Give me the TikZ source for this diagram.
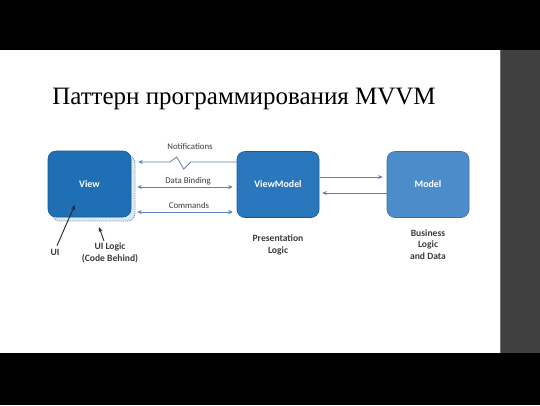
\documentclass[tikz,border=0pt]{standalone}
\usepackage{fontspec}
\setmainfont{Liberation Serif}
\setsansfont{Carlito}
\usetikzlibrary{arrows.meta}
\definecolor{panelgray}{RGB}{64,64,64}
\definecolor{viewblue}{RGB}{31,111,180}
\definecolor{vmblue}{RGB}{42,119,189}
\definecolor{modelblue}{RGB}{76,140,202}
\definecolor{edgeblue}{RGB}{24,90,150}
\definecolor{arrowblue}{RGB}{95,128,180}
\definecolor{shadeblue}{RGB}{222,234,246}
\definecolor{dashblue}{RGB}{120,150,195}
\definecolor{txtgray}{RGB}{60,60,60}
\tikzset{
  boxnode/.style={rounded corners=8pt, minimum width=83pt, minimum height=66pt, draw=edgeblue, line width=0.6pt, text=white, font=\sffamily\bfseries\fontsize{9.9}{12}\selectfont},
  linklabel/.style={font=\sffamily\fontsize{8.8}{10}\selectfont, text=txtgray, inner sep=0pt},
  notelabel/.style={font=\sffamily\bfseries\fontsize{9.6}{11.5}\selectfont, text=txtgray, align=center, inner sep=0pt},
  onearrow/.style={draw=arrowblue, line width=0.8pt, -{Stealth[length=4.5pt,width=4pt]}},
  twoarrow/.style={draw=arrowblue, line width=0.8pt, {Stealth[length=4.5pt,width=4pt]}-{Stealth[length=4.5pt,width=4pt]}},
  pointer/.style={draw=black!85, line width=0.9pt, -{Stealth[length=5pt,width=4pt]}}
}
\begin{document}
\begin{tikzpicture}[x=1pt,y=-1pt]
\useasboundingbox (0,0) rectangle (540,405);
\fill[white] (0,0) rectangle (540,405);
\fill[black] (0,0) rectangle (540,50);
\fill[black] (0,353) rectangle (540,405);
\fill[panelgray] (500,50) rectangle (540,353);
\draw[black!55, line width=1pt] (500.5,50) -- (500.5,353);

\node[font=\rmfamily\fontsize{25}{30}\selectfont, anchor=base] (title) at (244,104) {Паттерн программирования MVVM};

% code-behind backdrop
\draw[fill=shadeblue, draw=dashblue, dash pattern=on 1.2pt off 1pt, line width=0.9pt, rounded corners=8pt] (52,155) rectangle (135,221);

\node[boxnode, fill=viewblue] (view) at (89.5,184) {View};
\node[boxnode, fill=vmblue, minimum width=82pt] (vm) at (278,184.5) {ViewModel};
\node[boxnode, fill=modelblue, minimum width=82pt, draw=modelblue!80!black] (model) at (428,184.5) {Model};

% View <-> ViewModel
\draw[onearrow] ([yshift=22.5pt]vm.west) -- ++(-46,0) -- ++(-7,7) -- ++(-7,-12) -- ++(-7,5) -- ([xshift=7pt,yshift=22pt]view.east);
\draw[twoarrow] ([xshift=6pt,yshift=-3pt]view.east) -- ([xshift=-4pt,yshift=-2.5pt]vm.west);
\draw[twoarrow] ([xshift=6pt,yshift=-28pt]view.east) -- ([xshift=-4pt,yshift=-27.5pt]vm.west);
\node[linklabel] (lnotif) at (190,146) {Notifications};
\node[linklabel] (lbind) at (188,181) {Data Binding};
\node[linklabel] (lcmd) at (189,205) {Commands};

% ViewModel <-> Model
\draw[onearrow] ([xshift=1pt,yshift=7.5pt]vm.east) -- ([xshift=-4pt,yshift=7.5pt]model.west);
\draw[onearrow] ([yshift=-8.5pt]model.west) -- ([xshift=3pt,yshift=-8.5pt]vm.east);

% notes
\node[notelabel] (ui) at (55,252) {UI};
\node[notelabel] (uilogic) at (110,253) {UI Logic\\(Code Behind)};
\node[notelabel] (pres) at (278,245) {Presentation\\Logic};
\node[notelabel] (biz) at (428,244.5) {Business\\Logic\\and Data};
\coordinate (uitip) at (75,205);
\coordinate (logictip) at (99,227);
\draw[pointer] ([xshift=2pt,yshift=3pt]ui.north) .. controls (63,232) and (69,218) .. (uitip);
\draw[pointer] ([xshift=-6pt,yshift=2pt]uilogic.north) -- (logictip);
\end{tikzpicture}
\end{document}
